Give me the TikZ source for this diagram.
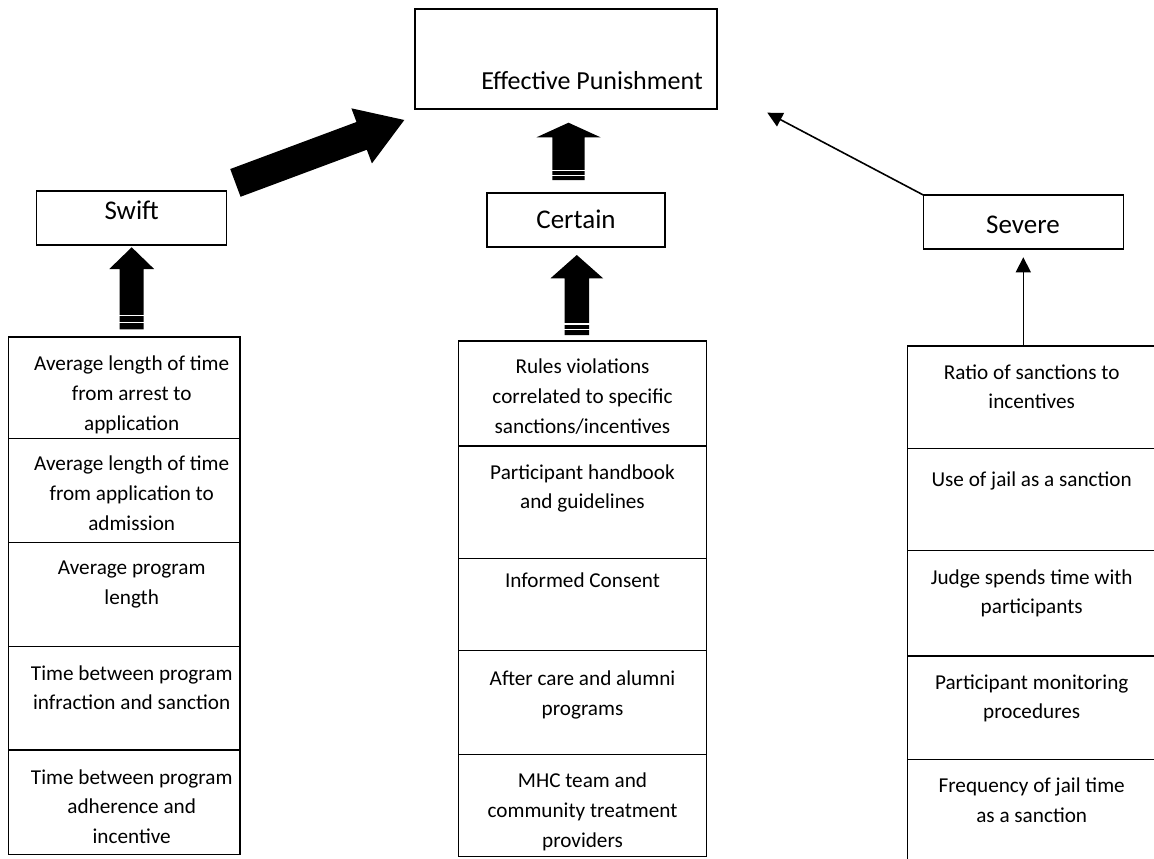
\documentclass[tikz,border=0pt]{standalone}
\usepackage{fontspec}
\setmainfont{Carlito}
\usetikzlibrary{calc,arrows.meta}
\tikzset{
  cell/.style={draw, line width=1.5pt, inner sep=0pt, outer sep=0pt, anchor=north west},
  celltxt/.style={anchor=north, align=center, inner sep=0pt, font=\fontsize{21.2}{29.8}\selectfont, execute at begin node=\strut},
  headbox/.style={draw, line width=1.3pt, inner sep=0pt, outer sep=0pt, anchor=north west},
  headtxt/.style={anchor=base, inner sep=0pt, font=\fontsize{27}{32}\selectfont},
  thinarrow/.style={line width=1.6pt, -{Triangle[length=15pt,width=15pt]}},
  stripe/.style={white, line width=1.3pt},
}
\newcommand\blockarrow[5]{%
  \coordinate (bah) at ($(#2)!#5!(#1)$);
  \fill ($(#1)!#3!90:(#2)$) -- ($(bah)!#3!90:(#2)$) -- ($(bah)!#4!90:(#2)$) -- (#2)
     -- ($(bah)!#4!-90:(#2)$) -- ($(bah)!#3!-90:(#2)$) -- ($(#1)!#3!-90:(#2)$) -- cycle;
}
\begin{document}
\begin{tikzpicture}[x=1pt,y=-1pt]
\useasboundingbox (0,0) rectangle (1154,859);
\fill[white] (0,0) rectangle (1154,859);
\clip (0,0) rectangle (1154,859);

% heading boxes
\node[headbox, minimum width=302pt, minimum height=100pt] (ep) at (415,9) {};
\node[headtxt, font=\fontsize{26}{32}\selectfont] (eptxt) at (592,89) {Effective Punishment};
\node[headbox, minimum width=190pt, minimum height=54pt] (sw) at (36.7,191) {};
\node[headtxt] (swtxt) at (131.7,219) {Swift};
\node[headbox, minimum width=178pt, minimum height=54pt] (ce) at (487,193) {};
\node[headtxt] (cetxt) at (576,228) {Certain};
\node[headbox, minimum width=200pt, minimum height=54pt] (sv) at (923.3,195) {};
\node[headtxt] (svtxt) at (1023,233) {Severe};

% left column
\node[cell, minimum width=231.7pt, minimum height=101.3pt] (s1) at (8.3,337) {};
\node[cell, minimum width=231.7pt, minimum height=104.4pt] (s2) at (8.3,438.3) {};
\node[cell, minimum width=231.7pt, minimum height=104pt] (s3) at (8.3,542.7) {};
\node[cell, minimum width=231.7pt, minimum height=103.3pt] (s4) at (8.3,646.7) {};
\node[cell, minimum width=231.7pt, minimum height=104.3pt] (s5) at (8.3,750) {};
\node[celltxt] (s1t) at (131.7,355.8) {Average length of time\\from arrest to\\application};
\node[celltxt] (s2t) at (131.7,455.8) {Average length of time\\from application to\\admission};
\node[celltxt] (s3t) at (131.7,560.8) {Average program\\length};
\node[celltxt] (s4t) at (131.7,665.2) {Time between program\\infraction and sanction};
\node[celltxt] (s5t) at (131.7,769.2) {Time between program\\adherence and\\incentive};

% middle column
\node[cell, minimum width=248.4pt, minimum height=105pt] (c1) at (458.3,341) {};
\node[cell, minimum width=248.4pt, minimum height=112.3pt] (c2) at (458.3,446) {};
\node[cell, minimum width=248.4pt, minimum height=92.4pt] (c3) at (458.3,558.3) {};
\node[cell, minimum width=248.4pt, minimum height=103.6pt] (c4) at (458.3,650.7) {};
\node[cell, minimum width=248.4pt, minimum height=102.4pt] (c5) at (458.3,754.3) {};
\node[celltxt] (c1t) at (582.5,358.5) {Rules violations\\correlated to specific\\sanctions/incentives};
\node[celltxt] (c2t) at (582.5,464.2) {Participant handbook\\and guidelines};
\node[celltxt] (c3t) at (582.5,566.5) {Informed Consent};
\node[celltxt] (c4t) at (582.5,670.8) {After care and alumni\\programs};
\node[celltxt] (c5t) at (582.5,772.5) {MHC team and\\community treatment\\providers};

% right column (cut by the picture edge)
\node[cell, minimum width=248.8pt, minimum height=102.3pt] (v1) at (907.3,346) {};
\node[cell, minimum width=248.8pt, minimum height=102.4pt] (v2) at (907.3,448.3) {};
\node[cell, minimum width=248.8pt, minimum height=105.3pt] (v3) at (907.3,550.7) {};
\node[cell, minimum width=248.8pt, minimum height=103.3pt] (v4) at (907.3,656) {};
\node[cell, minimum width=248.8pt, minimum height=108pt] (v5) at (907.3,759.3) {};
\node[celltxt] (v1t) at (1031.7,364.2) {Ratio of sanctions to\\incentives};
\node[celltxt] (v2t) at (1031.7,465.8) {Use of jail as a sanction};
\node[celltxt] (v3t) at (1031.7,569.2) {Judge spends time with\\participants};
\node[celltxt] (v4t) at (1031.7,674.2) {Participant monitoring\\procedures};
\node[celltxt] (v5t) at (1031.7,777.5) {Frequency of jail time\\as a sanction};

% block arrows
\coordinate (bigT) at (235.4,182.9);
\coordinate (bigP) at (404.3,120);
\blockarrow{bigT}{bigP}{14.8pt}{29.4pt}{45.5pt}

\coordinate (swT) at (131.7,329.3);
\coordinate (swP) at (131.7,247.3);
\blockarrow{swT}{swP}{12pt}{22.4pt}{21.7pt}
\draw[stripe] (118,315.8) -- (145,315.8);
\draw[stripe] (118,322.3) -- (145,322.3);

\coordinate (ceuT) at (568.5,180);
\coordinate (ceuP) at (568.5,122.7);
\blockarrow{ceuT}{ceuP}{16.2pt}{32pt}{14.6pt}
\draw[stripe] (551,170.7) -- (586,170.7);
\draw[stripe] (551,175.2) -- (586,175.2);

\coordinate (celT) at (576.8,335);
\coordinate (celP) at (576.8,255);
\blockarrow{celT}{celP}{12.2pt}{26.3pt}{23.3pt}
\draw[stripe] (563,324) -- (591,324);
\draw[stripe] (563,329.3) -- (591,329.3);

% thin arrows (Severe)
\coordinate (epR) at (767.3,112.7);
\draw[thinarrow] (sv.south |- v1.north) -- ([yshift=-8.3pt]sv.south);
\draw[thinarrow] (sv.north west) -- (epR);
\end{tikzpicture}
\end{document}
